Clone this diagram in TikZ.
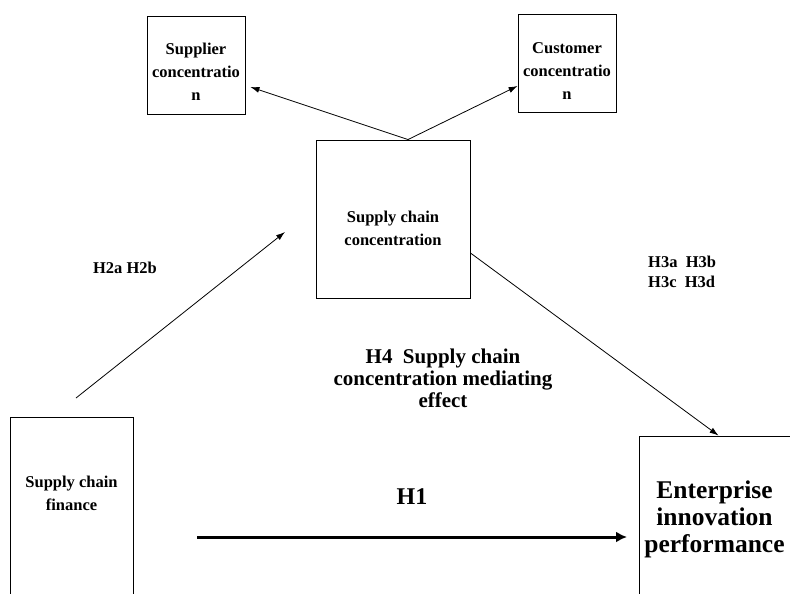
\documentclass[tikz,border=0pt]{standalone}
\usepackage{fontspec}
\setmainfont{Liberation Serif}
\usepackage{tikz}
\usetikzlibrary{arrows.meta,positioning,calc}

\begin{document}
\begin{tikzpicture}[
  x=1pt, y=-1pt,
  frame/.style={
    rectangle,
    draw=black,
    line width=0.9pt,
    inner sep=0pt
  },
  boxtext/.style={
    align=center,
    inner sep=0pt,
    font=\fontsize{16.5}{23}\selectfont\bfseries
  },
  hyp/.style={
    align=center,
    inner sep=0pt,
    font=\fontsize{16.5}{20}\selectfont\bfseries
  },
  path/.style={-{Latex[length=9pt,width=6pt]}, line width=0.8pt},
  mainpath/.style={-{Latex[length=11pt,width=11pt]}, line width=3pt}
]

\path[use as bounding box] (0,0) rectangle (790,594);
\clip (0,0) rectangle (790,594);

% variable boxes
\node[frame, minimum width=98pt, minimum height=98pt] (supplier) at (196,65) {};
\node[frame, minimum width=98pt, minimum height=98pt] (customer) at (567,63) {};
\node[frame, minimum width=154pt, minimum height=158pt] (scc) at (393,219) {};
\node[frame, minimum width=123pt, minimum height=177pt] (scf) at (71.5,505.5) {};
\node[frame, minimum width=171pt, minimum height=180pt] (eip) at (724.5,526) {};

\node[boxtext] (supplier-txt) at ($(supplier)+(0,7)$) {Supplier\\concentratio\\n};
\node[boxtext] (customer-txt) at ($(customer)+(0,8)$) {Customer\\concentratio\\n};
\node[boxtext] (scc-txt) at ($(scc)+(0,9)$) {Supply chain\\concentration};
\node[boxtext] (scf-txt) at ($(scf)+(0,-12)$) {Supply chain\\finance};
\node[boxtext, font=\fontsize{25.5}{27}\selectfont\bfseries] (eip-txt) at ($(eip)+(-10,-7)$) {Enterprise\\innovation\\performance};

% hypothesis labels
\node[hyp] (h2lbl) at (125,268) {H2a H2b};
\node[hyp, anchor=west, align=left] (h3lbl) at (648,272) {H3a\ \ H3b\\H3c\ \ H3d};
\node[hyp, font=\fontsize{21}{22}\selectfont\bfseries] (h4lbl) at (443,378) {H4\ \ Supply chain\\concentration mediating\\effect};
\node[hyp, font=\fontsize{24}{26}\selectfont\bfseries] (h1lbl) at (412,497) {H1};

% ends of the paths
\coordinate (apex) at ($(scc.north)+(15,0)$);
\coordinate (suptip) at ($(supplier.east)+(5,22)$);
\coordinate (custip) at ($(customer.west)+(0,23)$);
\coordinate (h2from) at (76,398);
\coordinate (h2to) at (285,232);
\coordinate (h3from) at ($(scc.east)+(0,34)$);
\coordinate (h1from) at (197,537);
\coordinate (h1to) at (627,537);

\draw[path] (apex) -- (suptip);
\draw[path] (apex) -- (custip);
\draw[path] (h2from) -- (h2to);
\draw[path] (h3from) -- ($(eip.north)+(-6,0)$);
\draw[mainpath] (h1from) -- (h1to);

\end{tikzpicture}
\end{document}
